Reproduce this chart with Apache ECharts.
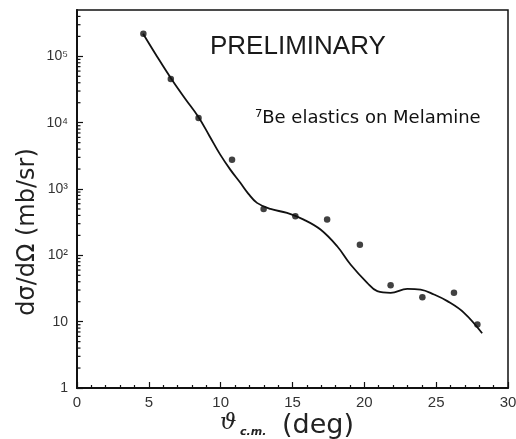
<!DOCTYPE html>
<html>
<head>
<meta charset="utf-8">
<script src="https://cdn.jsdelivr.net/npm/echarts@6/dist/echarts.min.js"></script>
<style>
html,body{margin:0;padding:0;background:#fff;}
#chart{width:516px;height:439px;}
</style>
</head>
<body>
<div id="chart"></div>
<script>
// Measured data points: scattering angle (deg, c.m.) and cross section (mb/sr)
var dataAngles = [4.62, 6.53, 8.46, 10.79, 12.99, 15.2, 17.41, 19.69, 21.83, 24.04, 26.24, 27.87];
var dataValues = [219000, 45500, 11800, 2770, 501, 388, 346, 145, 35.4, 23.4, 27.2, 9.1];

// Fit curve
var fitAngles = [4.60, 5.58, 6.56, 7.53, 8.44, 9.21, 9.97, 10.67, 11.37, 11.92, 12.53, 13.46, 14.62, 15.78, 16.95, 18.11, 19.04, 20.20, 20.90, 21.83, 22.99, 23.92, 24.85, 25.78, 26.94, 28.20];
var fitValues = [219000, 98700, 46000, 23000, 12300, 6370, 3300, 1960, 1240, 853, 618, 501, 436, 346, 245, 137, 72.7, 38.5, 28.8, 27.2, 31.3, 30.5, 25.7, 20.4, 13.6, 6.7];

// Axis ticks / labels
var xTickValues = [0, 5, 10, 15, 20, 25, 30];
var yTickValues = [1, 10, 100, 1000, 10000, 100000];
var yTickLabels = ['1', '10', '10²', '10³', '10⁴', '10⁵'];
var yMinorTickValues = [2,3,4,5,6,7,8,9, 20,30,40,50,60,70,80,90, 200,300,400,500,600,700,800,900,
  2000,3000,4000,5000,6000,7000,8000,9000, 20000,30000,40000,50000,60000,70000,80000,90000,
  200000,300000,400000];

var chart = echarts.init(document.getElementById('chart'), null, {renderer: 'canvas'});

function pairs(xs, ys) { return xs.map(function (x, i) { return [x, ys[i]]; }); }

var option = {
  backgroundColor: '#ffffff',
  animation: false,
  grid: {
    left: 77, right: 8, top: 10, bottom: 51,
    containLabel: false, outerBoundsMode: 'none',
    show: true, borderColor: '#111', borderWidth: 1.5, backgroundColor: 'transparent'
  },
  xAxis: {
    type: 'value', min: 0, max: 30, interval: 5,
    axisLine: {show: true, onZero: false, lineStyle: {color: '#111', width: 2}},
    axisTick: {show: true, inside: true, length: 6, lineStyle: {color: '#111', width: 1.2}},
    minorTick: {show: true, splitNumber: 5, length: 3, lineStyle: {color: '#111', width: 1.2}},
    splitLine: {show: false},
    axisLabel: {
      color: '#333', fontFamily: 'Liberation Sans', fontSize: 15, margin: 7,
      formatter: function (v) { return xTickValues.indexOf(v) >= 0 ? String(v) : ''; }
    }
  },
  yAxis: {
    type: 'log', logBase: 10, min: 1, max: 500000,
    axisLine: {show: true, onZero: false, lineStyle: {color: '#111', width: 2}},
    axisTick: {show: true, inside: true, length: 6, lineStyle: {color: '#111', width: 1.2}},
    splitLine: {show: false},
    axisLabel: {
      color: '#333', fontFamily: 'Liberation Sans', fontSize: 14, margin: 9,
      showMaxLabel: false,
      formatter: function (v) {
        for (var i = 0; i < yTickValues.length; i++) {
          if (Math.abs(v - yTickValues[i]) < 1e-6 * yTickValues[i]) return yTickLabels[i];
        }
        return '';
      }
    }
  },
  graphic: [
    {
      type: 'text', left: 210, top: 34, z: 10,
      style: {text: 'PRELIMINARY', fontFamily: 'Liberation Sans', fontSize: 26, fill: '#1a1a1a'}
    },
    {
      type: 'text', left: 255, top: 109, z: 10,
      style: {text: '⁷Be elastics on Melamine', fontFamily: 'DejaVu Sans', fontSize: 18, fill: '#111'}
    },
    {
      type: 'text', x: 28, y: 232, rotation: Math.PI / 2, z: 10,
      style: {text: 'dσ/dΩ (mb/sr)', fontFamily: 'DejaVu Sans', fontSize: 24, fill: '#222',
        align: 'center', verticalAlign: 'middle'}
    },
    {
      type: 'text', left: 220, top: 412, z: 10,
      style: {text: 'ϑ', fontFamily: 'DejaVu Serif', fontStyle: 'italic', fontSize: 23, fill: '#222'}
    },
    {
      type: 'text', left: 240, top: 427, z: 10,
      style: {text: 'c.m.', fontFamily: 'DejaVu Sans', fontStyle: 'italic', fontWeight: 'bold', fontSize: 11, fill: '#222'}
    },
    {
      type: 'text', left: 282, top: 412, z: 10,
      style: {text: '(deg)', fontFamily: 'DejaVu Sans', fontSize: 27, fill: '#222'}
    }
  ],
  series: [
    {
      name: 'minor ticks', type: 'custom', silent: true, clip: false,
      data: yMinorTickValues.map(function (v) { return [0, v]; }),
      renderItem: function (params, api) {
        var p = api.coord([0, api.value(1)]);
        return {
          type: 'line',
          shape: {x1: p[0], y1: p[1], x2: p[0] + 3.5, y2: p[1]},
          style: {stroke: '#111', lineWidth: 1.2}
        };
      }
    },
    {
      name: 'fit', type: 'line', data: pairs(fitAngles, fitValues),
      smooth: 0.4, showSymbol: false, symbol: 'none',
      lineStyle: {color: '#111', width: 1.8}
    },
    {
      name: 'data', type: 'scatter', data: pairs(dataAngles, dataValues),
      symbol: 'circle', symbolSize: 6.5,
      itemStyle: {color: '#111'}
    }
  ]
};
chart.setOption(option);
</script>
</body>
</html>
